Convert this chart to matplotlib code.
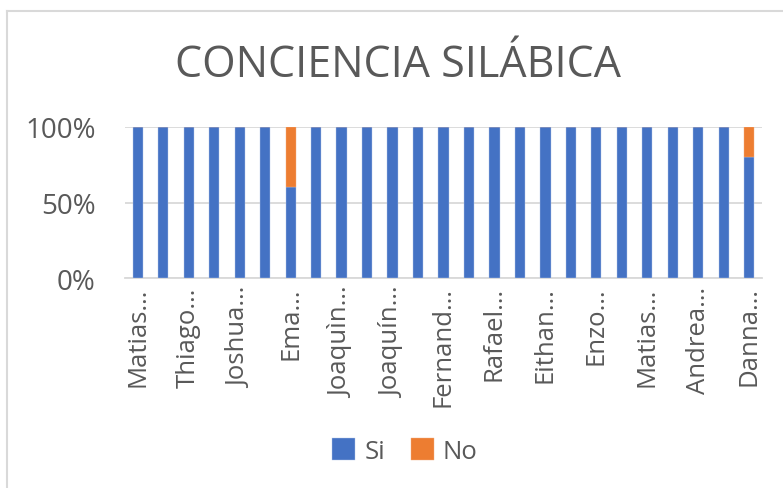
import matplotlib
matplotlib.use("Agg")
import matplotlib.pyplot as plt
import numpy as np
from matplotlib.lines import Line2D

# Data (25 students; only every other label visible in the reference)
tick_labels = ["Matias…", "Thiago…", "Joshua…", "Ema…", "Joaquìn…", "Joaquín…",
               "Fernand…", "Rafael…", "Eithan…", "Enzo…", "Matias…", "Andrea…", "Danna…"]
si = [100, 100, 100, 100, 100, 100, 60, 100, 100, 100, 100, 100, 100,
      100, 100, 100, 100, 100, 100, 100, 100, 100, 100, 100, 80]
no = [0, 0, 0, 0, 0, 0, 40, 0, 0, 0, 0, 0, 0,
      0, 0, 0, 0, 0, 0, 0, 0, 0, 0, 0, 20]
title = "CONCIENCIA SILÁBICA"

BLUE = "#4472C4"
ORANGE = "#ED7D31"
TXT = "#595959"
FONT = ["Open Sans", "DejaVu Sans"]
W, H = 783, 489

fig = plt.figure(figsize=(W/100, H/100), dpi=100)
fig.patch.set_facecolor("white")

# outer chart border (left and top only visible)
fig.add_artist(Line2D([6.5/W, 6.5/W], [0, 1-11.5/H], color="#D9D9D9", linewidth=1.5))
fig.add_artist(Line2D([6.5/W, 1], [1-11.5/H, 1-11.5/H], color="#D9D9D9", linewidth=1.5))

ax = fig.add_axes([125/W, 1-279/H, (762-125)/W, (279-128)/H])
x = np.arange(len(si))
ax.bar(x, si, width=0.4, color=BLUE, label="Si", zorder=3, edgecolor="#B4C7E7", linewidth=0.3)
ax.bar(x, no, width=0.4, bottom=si, color=ORANGE, label="No", zorder=3, edgecolor="#F4B183", linewidth=0.3)

ax.set_xlim(-0.5, len(si)-0.5)
ax.set_ylim(0, 100)
ax.set_yticks([0, 50, 100])
ax.set_yticklabels(["0%", "50%", "100%"], fontsize=20, color=TXT, family=FONT)
ax.yaxis.grid(True, color="#D9D9D9", linewidth=1.3, zorder=0)
ax.set_xticks(x[::2])
ax.set_xticklabels(tick_labels, rotation=90, fontsize=18.5, color=TXT, family=FONT)
ax.tick_params(axis="y", length=0, pad=21)
ax.tick_params(axis="x", length=0, pad=6)
for s in ["top", "right", "left"]:
    ax.spines[s].set_visible(False)
ax.spines["bottom"].set_color("#D9D9D9")
ax.spines["bottom"].set_linewidth(1.3)

fig.text(398/W, 1-66/H, title, ha="center", va="center", fontsize=31, color=TXT, family=FONT)

leg = fig.legend(loc="center", bbox_to_anchor=(405/W, 1-452/H), ncol=2, frameon=False,
                 prop={"family": FONT, "size": 18.5}, handlelength=0.9, handleheight=0.9,
                 columnspacing=1.0, handletextpad=0.35)
for t in leg.get_texts():
    t.set_color(TXT)

fig.savefig("out.png", dpi=100, facecolor="white")
